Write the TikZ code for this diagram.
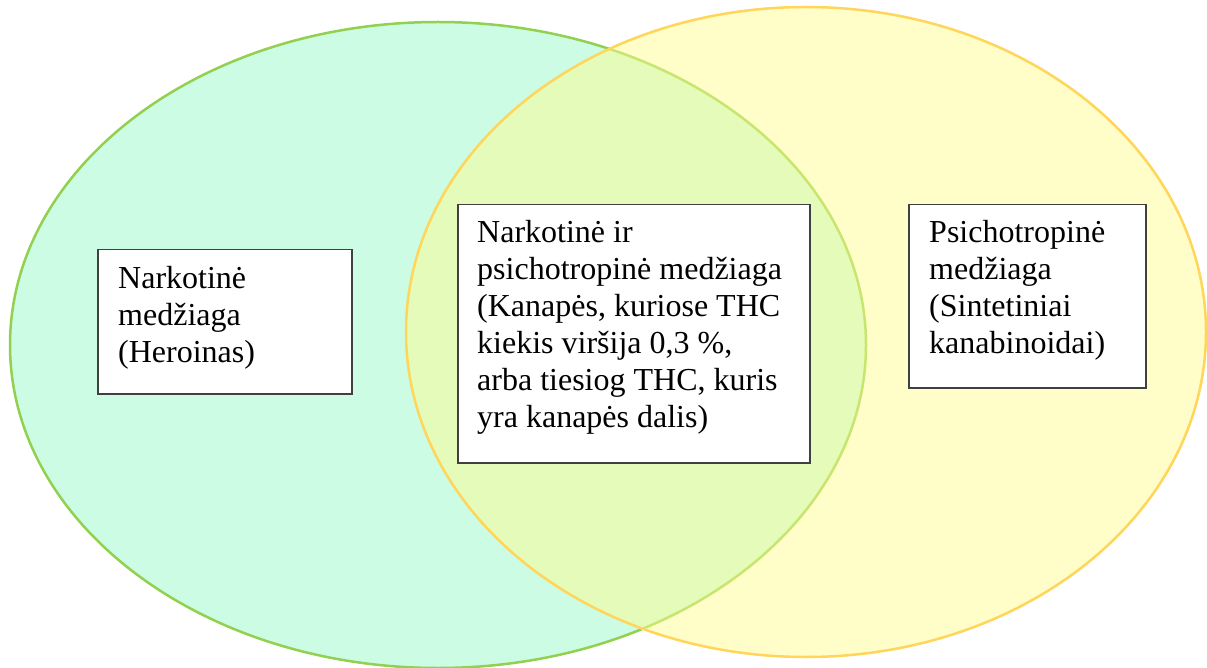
\documentclass[tikz,border=0pt]{standalone}
\usepackage{fontspec}
\setmainfont{Liberation Serif}
\definecolor{mintfill}{HTML}{CCFCE4}
\definecolor{greenline}{HTML}{92D050}
\definecolor{yellowfill}{HTML}{FFFB91}
\definecolor{yellowline}{HTML}{FFD55A}
\definecolor{boxline}{HTML}{404040}
\begin{document}
\begin{tikzpicture}[x=1pt,y=-1pt,
  setA/.style={fill=mintfill,draw=greenline,line width=2.5pt},
  setB/.style={fill=yellowfill,fill opacity=0.5,draw=yellowline,draw opacity=1,line width=2.5pt},
  labelbox/.style={draw=boxline,fill=white,line width=1.5pt,anchor=north west,inner sep=0pt},
  labeltext/.style={anchor=base west,align=left,inner sep=0pt,font=\fontsize{32}{37}\selectfont}]
\useasboundingbox (0,0) rectangle (1207,668);
\draw[setA] (438,345) ellipse [x radius=428pt, y radius=323pt];
\draw[setB] (806,332) ellipse [x radius=400pt, y radius=325pt];
\node[labelbox,minimum width=254pt,minimum height=144pt] (b1) at (97,249) {};
\node[labelbox,minimum width=352pt,minimum height=258pt] (b2) at (457,204) {};
\node[labelbox,minimum width=237pt,minimum height=183pt] (b3) at (908,204) {};
\node[labeltext] (t1) at (118,362) {Narkotinė\\medžiaga\\(Heroinas)};
\node[labeltext] (t2) at (477,427) {Narkotinė ir\\psichotropinė medžiaga\\(Kanapės, kuriose THC\\kiekis viršija 0,3 \%,\\arba tiesiog THC, kuris\\yra kanapės dalis)};
\node[labeltext] (t3) at (929,353) {Psichotropinė\\medžiaga\\(Sintetiniai\\kanabinoidai)};
\end{tikzpicture}
\end{document}
